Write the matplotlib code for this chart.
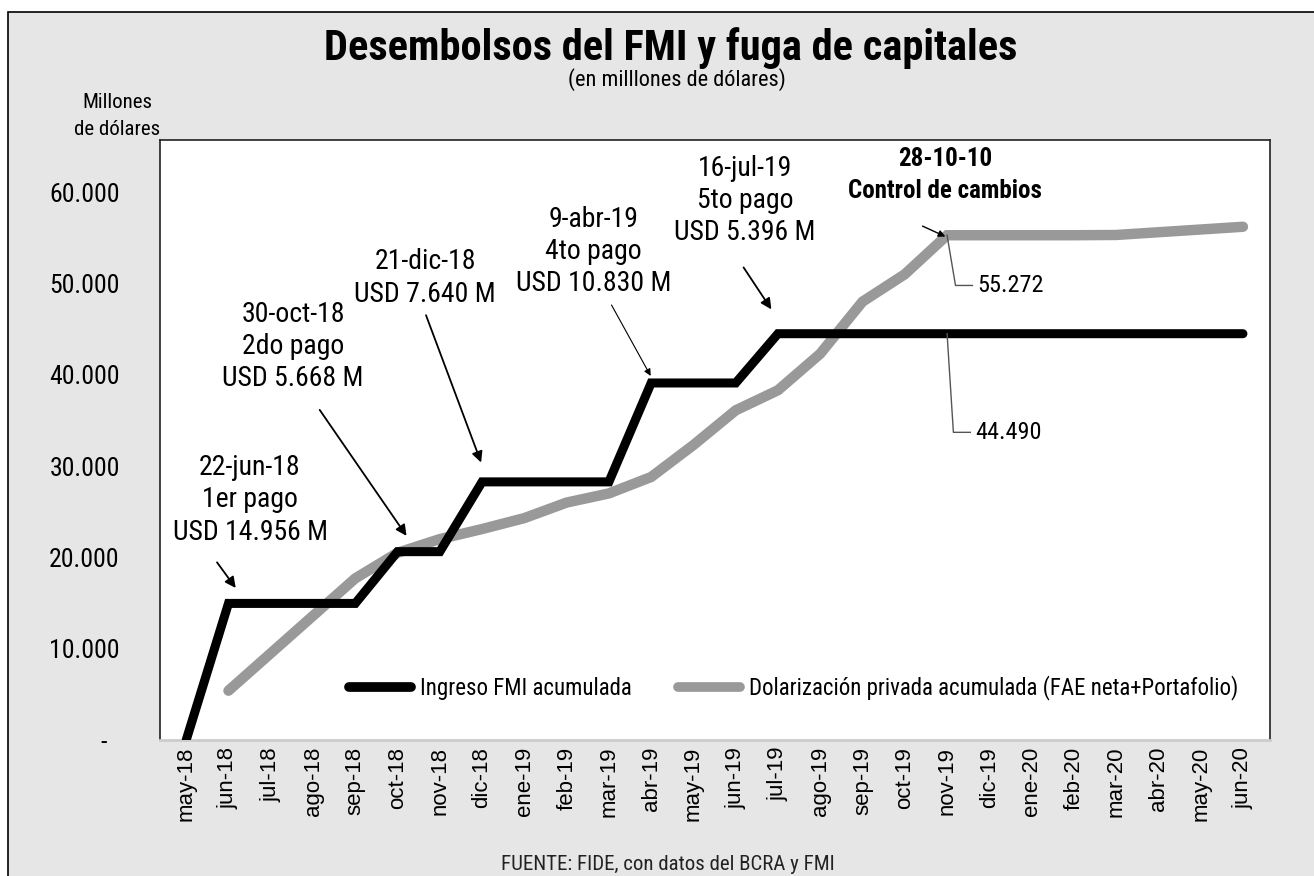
import matplotlib
matplotlib.use("Agg")
import matplotlib.pyplot as plt
from matplotlib import font_manager
from matplotlib.patches import Rectangle
from matplotlib.lines import Line2D

# ---------------- data ----------------
months = ["may-18", "jun-18", "jul-18", "ago-18", "sep-18", "oct-18", "nov-18", "dic-18",
          "ene-19", "feb-19", "mar-19", "abr-19", "may-19", "jun-19", "jul-19", "ago-19",
          "sep-19", "oct-19", "nov-19", "dic-19", "ene-20", "feb-20", "mar-20", "abr-20",
          "may-20", "jun-20"]
fmi_acum = [0, 14956, 14956, 14956, 14956, 20624, 20624, 28264, 28264, 28264, 28264,
            39094, 39094, 39094, 44490, 44490, 44490, 44490, 44490, 44490, 44490, 44490,
            44490, 44490, 44490, 44490]
# private dollarization starts in jun-18
dolar_months = months[1:]
dolar_acum = [5400, 9500, 13600, 17700, 20500, 22000, 23100, 24300, 26000, 27000, 28800,
              32300, 36100, 38300, 42300, 48000, 51000, 55272, 55272, 55272, 55272, 55300,
              55600, 55900, 56200]
yticks = [0, 10000, 20000, 30000, 40000, 50000, 60000]
ytick_labels = ["-  ", "10.000", "20.000", "30.000", "40.000", "50.000", "60.000"]

# ---------------- fonts ----------------
flist = font_manager.fontManager.ttflist
avail = {f.name for f in flist}
NARROW_FP = None
SCALE = 1.0
for cand in ["Liberation Sans Narrow", "Arial Narrow", "Roboto Condensed",
             "Open Sans Condensed", "Noto Sans Condensed", "DejaVu Sans Condensed"]:
    if cand in avail:
        NARROW_FP = dict(family=cand)
        break
if NARROW_FP is None:
    for f in flist:
        if f.name in ("Noto Sans", "DejaVu Sans", "Roboto", "Open Sans") and \
                str(f.stretch) in ("condensed", "semi-condensed", "extra-condensed"):
            NARROW_FP = dict(family=f.name, stretch=f.stretch)
            SCALE = 0.95
            break
if NARROW_FP is None:
    NARROW_FP = dict(family="Liberation Sans" if "Liberation Sans" in avail else "DejaVu Sans")
    SCALE = 0.86
REG = "Liberation Sans" if "Liberation Sans" in avail else "DejaVu Sans"


def nfont(size, **kw):
    d = dict(NARROW_FP)
    d["size"] = size * SCALE
    d.update(kw)
    return font_manager.FontProperties(**d)


W, H = 1314, 876
fig = plt.figure(figsize=(W / 100, H / 100), dpi=100, facecolor="white")
fig.patches.append(Rectangle((8 / W, -0.1), 2, (H - 12) / H + 0.1, transform=fig.transFigure,
                             facecolor="#e6e6e6", edgecolor="black", lw=1.2, zorder=-10))

ax = fig.add_axes([160 / W, 1 - 740 / H, (1270 - 160) / W, (740 - 140) / H])
ax.set_facecolor("white")

x_all = list(range(len(months)))
x_dol = [months.index(m) for m in dolar_months]

ax.plot(x_all, fmi_acum, color="black", lw=6.5, solid_capstyle="round",
        solid_joinstyle="miter", zorder=3)
ax.plot(x_dol, dolar_acum, color="#999999", lw=7.5, solid_capstyle="round",
        solid_joinstyle="miter", zorder=2)

ax.set_xlim(-0.62, len(months) - 1 + 0.64)
ax.set_ylim(0, 65700)
ax.set_xticks(x_all)
ax.set_xticklabels(months, rotation=90, fontsize=16, family=REG)
ax.set_yticks(yticks)
ax.set_yticklabels(ytick_labels)
for lab in ax.get_yticklabels():
    lab.set_fontproperties(nfont(18.5))
ax.tick_params(axis="both", length=0)
ax.tick_params(axis="y", pad=29)
ax.tick_params(axis="x", pad=5)
for s in ["left", "top", "right"]:
    ax.spines[s].set_color("#222222")
    ax.spines[s].set_linewidth(1.2)
ax.spines["bottom"].set_color("#cccccc")
ax.spines["bottom"].set_linewidth(2)

# ---------------- annotations ----------------
arrow_kw = dict(arrowstyle="-|>", color="black", lw=1.3, mutation_scale=16)

notes = [
    ("22-jun-18\n1er pago\nUSD 14.956 M", (1.51, 26300), (0.69, 19700), (1.21, 16400)),
    ("30-oct-18\n2do pago\nUSD 5.668 M", (2.53, 43100), (3.12, 36400), (5.25, 22100)),
    ("21-dic-18\nUSD 7.640 M", (5.65, 50600), (5.65, 46800), (7.0, 30100)),
    ("9-abr-19\n4to pago\nUSD 10.830 M", (9.63, 53500), (10.03, 47900), (11.02, 39600)),
    ("16-jul-19\n5to pago\nUSD 5.396 M", (13.22, 59100), (13.15, 52000), (13.88, 46900)),
]
for txt, tpos, a0, a1 in notes:
    ax.text(tpos[0], tpos[1], txt, ha="center", va="center", fontproperties=nfont(20),
            linespacing=1.25, zorder=5)
    kw = dict(arrow_kw)
    if txt.startswith("9-abr"):
        kw["lw"] = 0.8
        kw["mutation_scale"] = 10
    ax.annotate("", xy=a1, xytext=a0, arrowprops=kw, zorder=5)

ax.text(17.95, 61900, "28-10-10\nControl de cambios", ha="center", va="center",
        fontproperties=nfont(18, weight="bold"), linespacing=1.4, zorder=5)
ax.annotate("", xy=(18.02, 55000), xytext=(17.36, 56400),
            arrowprops=dict(arrowstyle="-|>", color="black", lw=1.0, mutation_scale=10), zorder=5)

# value labels with leader lines
nov = months.index("nov-19")
v_dol = dolar_acum[dolar_months.index("nov-19")]
v_fmi = fmi_acum[nov]
ax.plot([nov, nov + 0.2, nov + 0.6], [v_dol, v_dol - 5500, v_dol - 5500],
        color="#555555", lw=1.0, zorder=4)
ax.text(nov + 0.72, v_dol - 5500, "55.272", ha="left", va="center",
        fontproperties=nfont(17.5), zorder=5)
ax.plot([nov, nov + 0.15, nov + 0.55], [v_fmi, v_fmi - 10800, v_fmi - 10800],
        color="#555555", lw=1.0, zorder=4)
ax.text(nov + 0.67, v_fmi - 10800, "44.490", ha="left", va="center",
        fontproperties=nfont(17.5), zorder=5)

# legend
handles = [Line2D([], [], color="black", lw=7, solid_capstyle="round"),
           Line2D([], [], color="#999999", lw=7, solid_capstyle="round")]
ax.legend(handles, ["Ingreso FMI acumulada",
                    "Dolarización privada acumulada (FAE neta+Portafolio)"],
          loc="center", bbox_to_anchor=(0.571, 0.087), ncol=2, frameon=False,
          prop=nfont(16.5), handlelength=2.7, handletextpad=0.4,
          columnspacing=2.0)

# ---------------- titles ----------------
fig.text(671 / W, 1 - 48 / H, "Desembolsos del FMI y fuga de capitales", ha="center",
         va="center", fontproperties=nfont(30.5, weight="bold"))
fig.text(677 / W, 1 - 80 / H, "(en milllones de dólares)", ha="center", va="center",
         fontproperties=nfont(16))
fig.text(117 / W, 1 - 116 / H, "Millones\nde dólares", ha="center", va="center",
         fontproperties=nfont(15), linespacing=1.55)
fig.text(668 / W, 1 - 864 / H, "FUENTE: FIDE, con datos del BCRA y FMI", ha="center",
         va="center", fontproperties=nfont(15), color="#222222")

fig.savefig("out.png", dpi=100, facecolor=fig.get_facecolor())
